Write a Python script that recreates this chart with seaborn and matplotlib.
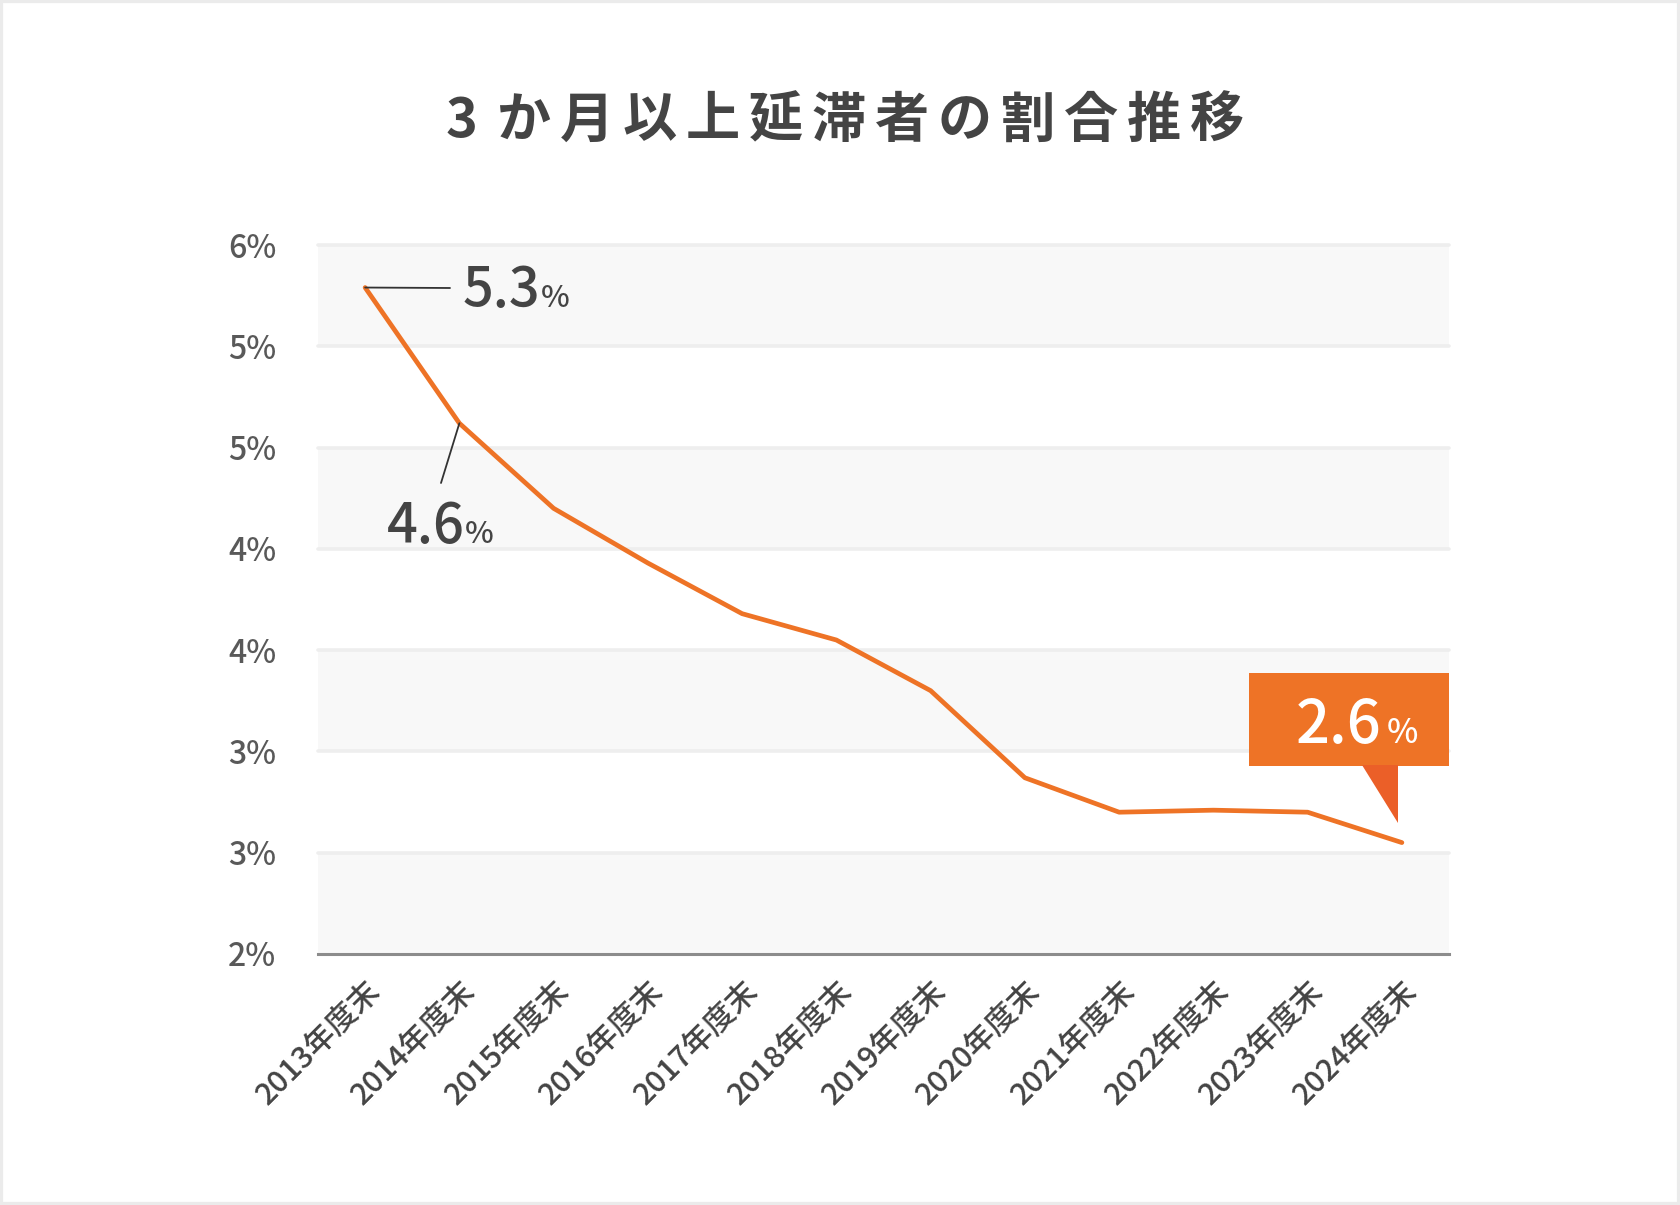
import numpy as np
import pandas as pd
import seaborn as sns
import matplotlib.pyplot as plt
from matplotlib.patches import Rectangle, Polygon

# Datos: proporción de morosos de 3 meses o más (%)
years = ["2013年度末", "2014年度末", "2015年度末", "2016年度末", "2017年度末", "2018年度末",
         "2019年度末", "2020年度末", "2021年度末", "2022年度末", "2023年度末", "2024年度末"]
ratio = [5.29, 4.62, 4.20, 3.93, 3.68, 3.55, 3.30, 2.87, 2.70, 2.71, 2.70, 2.55]
y_ticks = [2.0, 2.5, 3.0, 3.5, 4.0, 4.5, 5.0, 5.5]
title_text = "3か月以上延滞者の割合推移"

df = pd.DataFrame({"year": years, "ratio": ratio})

sns.set_theme(style="white")
plt.rcParams["font.family"] = ["Noto Sans CJK JP", "DejaVu Sans"]

W, H = 1680, 1205
fig = plt.figure(figsize=(W / 100, H / 100), dpi=100)
fig.patch.set_facecolor("white")


def fp(x, y):
    # pixel -> figure fraction
    return x / W, 1 - y / H


def valor_con_pct(x, y, num, size_num, size_pct, color, gap=0, zorder=6):
    # número grande seguido de un "%" pequeño, colocado tras medir el número
    t = fig.text(*fp(x, y), num, fontsize=size_num, color=color, ha="left",
                 va="baseline", fontweight="medium", zorder=zorder)
    fig.canvas.draw()
    x_end = t.get_window_extent().x1
    fig.text(*fp(x_end + gap, y), "%", fontsize=size_pct, color=color,
             ha="left", va="baseline", fontweight="medium", zorder=zorder)


ax = fig.add_axes([318 / W, 1 - 954 / H, 1131 / W, 709 / H])

# bandas alternas y líneas de cuadrícula
for lo in y_ticks[::2]:
    ax.axhspan(lo, lo + 0.5, color="#f8f8f8", zorder=0, lw=0)
for t in y_ticks[1:]:
    ax.axhline(t, color="#eeeeee", lw=2.6, zorder=1, clip_on=False)

sns.lineplot(data=df, x="year", y="ratio", sort=False, color="#ee7326",
             lw=3.4, ax=ax, zorder=3, solid_capstyle="round")

ax.set_xlim(-0.5, len(years) - 0.5)
ax.set_ylim(y_ticks[0], y_ticks[-1])
ax.set_yticks(y_ticks)
ax.set_yticklabels([f"{int(np.floor(v + 0.5))}%" for v in y_ticks],
                   fontsize=23, color="#595959", fontweight="medium")
ax.set_xticks(range(len(years)))
ax.set_xticklabels(years, rotation=45, ha="right", rotation_mode="anchor",
                   fontsize=22, color="#444444", fontweight="medium")
ax.tick_params(axis="y", length=0, pad=30)
ax.tick_params(axis="x", length=0, pad=15)
ax.set_xlabel("")
ax.set_ylabel("")
for s in ["top", "right", "left"]:
    ax.spines[s].set_visible(False)
ax.spines["bottom"].set_color("#8c8c8c")
ax.spines["bottom"].set_linewidth(2.2)
ax.spines["bottom"].set_zorder(4)

# título con espaciado entre caracteres
step = 63
for i, ch in enumerate(title_text):
    fig.text(*fp(839 + (i - (len(title_text) - 1) / 2) * step, 121), ch,
             ha="center", va="center", fontsize=39, fontweight="bold",
             color="#444444")

# anotación primer valor
ax.annotate("", xy=(0, ratio[0]), xycoords="data", xytext=fp(450, 288),
            textcoords="figure fraction",
            arrowprops=dict(arrowstyle="-", color="#333333", lw=1.3,
                            shrinkA=0, shrinkB=0))
valor_con_pct(463, 307, f"{ratio[0]:.1f}", 39, 22, "#444444")

# anotación segundo valor
ax.annotate("", xy=(1, ratio[1]), xycoords="data", xytext=fp(441, 483),
            textcoords="figure fraction",
            arrowprops=dict(arrowstyle="-", color="#333333", lw=1.3,
                            shrinkA=0, shrinkB=0))
valor_con_pct(387, 543, f"{ratio[1]:.1f}", 39, 22, "#444444")

# recuadro del último valor
bx0, by0 = fp(1249, 766)
fig.add_artist(Rectangle((bx0, by0), 200 / W, 93 / H, transform=fig.transFigure,
                         facecolor="#ee7326", edgecolor="none", zorder=5))
fig.add_artist(Polygon([fp(1362, 765), fp(1398, 765), fp(1398, 823)],
                       closed=True, transform=fig.transFigure,
                       facecolor="#eb5f28", edgecolor="none", zorder=5))
valor_con_pct(1296, 743, f"{ratio[-1] + 0.05:.1f}", 43, 24, "white", gap=5)

# marco exterior
fig.add_artist(Rectangle((0, 0), 1, 1, transform=fig.transFigure,
                         facecolor="none", edgecolor="#ebebeb", lw=4.5,
                         zorder=10))

fig.savefig("out.png", dpi=100)
